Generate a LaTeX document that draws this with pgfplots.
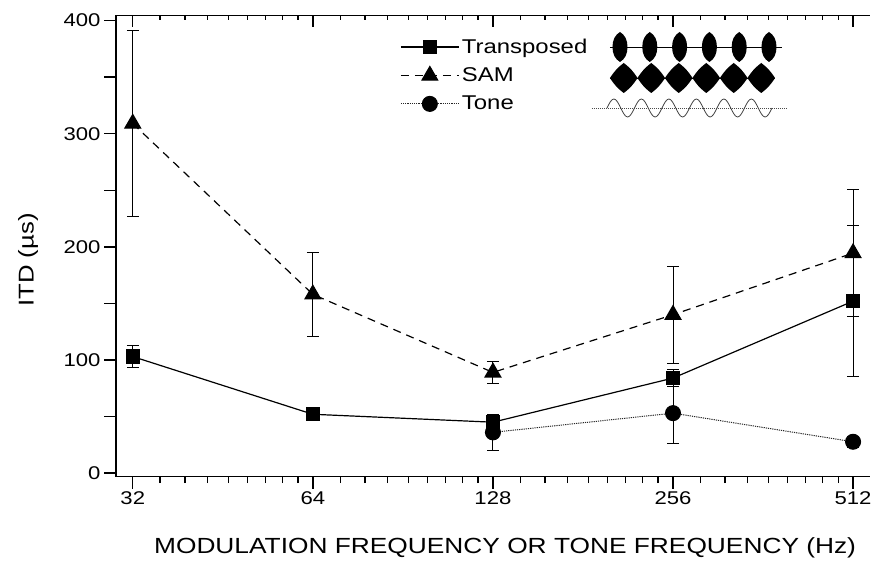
\documentclass[border=0pt]{standalone}
\usepackage{fontspec}
\setmainfont{Liberation Sans}[FakeStretch=1.2]
\usepackage{pgfplots}
\usepackage{pgfplotstable}
\pgfplotsset{compat=1.18}

% ITD thresholds (microseconds) with error bars
\pgfplotstableread{
f    itd    err
32   103    10
64   52     3
128  45     6
256  84     7.5
512  152    67
}\transposed
\pgfplotstableread{
f    itd    err
32   309    82
64   158    37
128  89     9.5
256  140    43
512  194.5  56
}\sam
\pgfplotstableread{
f    itd    err
128  36     16
256  53     26.5
512  27.7   5
}\tone

\begin{document}
\begin{tikzpicture}
% top axis: ticks pointing inward, no labels
\begin{axis}[
  at={(0,0)}, anchor=south west, scale only axis,
  width=754bp, height=461bp,
  xmode=log, log basis x=2, xmin=30, xmax=546.5,
  ymin=-3, ymax=404.5,
  xtick={32,64,128,256,512},
  extra x ticks={35.556,39.111,42.667,46.222,49.778,53.333,56.889,60.444,
    71.111,78.222,85.333,92.444,99.556,106.667,113.778,120.889,
    142.222,156.444,170.667,184.889,199.111,213.333,227.556,241.778,
    284.444,312.889,341.333,369.778,398.222,426.667,455.111,483.556},
  extra x tick labels={},
  extra x tick style={major tick length=5bp},
  major tick length=12bp,
  every tick/.append style={line width=1.4bp, black},
  axis line style={line width=1.6bp},
  axis x line*=top, axis y line=none,
  xticklabels={}, tick align=inside]
\end{axis}

\begin{axis}[name=ax,
  at={(0,0)}, anchor=south west, scale only axis,
  width=754bp, height=461bp,
  xmode=log, log basis x=2, xmin=30, xmax=546.5,
  ymin=-3, ymax=404.5,
  xtick={32,64,128,256,512},
  extra x ticks={35.556,39.111,42.667,46.222,49.778,53.333,56.889,60.444,
    71.111,78.222,85.333,92.444,99.556,106.667,113.778,120.889,
    142.222,156.444,170.667,184.889,199.111,213.333,227.556,241.778,
    284.444,312.889,341.333,369.778,398.222,426.667,455.111,483.556},
  extra x tick labels={},
  extra x tick style={major tick length=6.5bp},
  ytick={0,50,100,150,200,250,300,350,400},
  yticklabels={0,,100,,200,,300,,400},
  major tick length=12bp,
  every tick/.append style={line width=1.4bp, black},
  axis line style={line width=1.6bp},
  axis x line*=bottom, axis y line*=left,
  tick align=outside,
  xticklabels={32,64,128,256,512},
  /pgf/number format/assume math mode=true,
  ticklabel style={font=\fontsize{18.5}{20}\selectfont},
  xlabel={MODULATION FREQUENCY OR TONE FREQUENCY (Hz)},
  ylabel={ITD (\textmu s)},
  xlabel style={at={(axis description cs:0.516,-0.155)}, anchor=center,
    font=\fontsize{22}{24}\selectfont},
  ylabel style={at={(axis description cs:-0.1167,0.4696)}, anchor=center,
    font=\fontsize{21.5}{24}\selectfont},
  legend style={at={(axis description cs:0.3767,0.955)}, anchor=north west,
    draw=none, fill=none, inner sep=0pt, row sep=8bp,
    font=\fontsize{20}{21}\selectfont,
    nodes={inner sep=2.5bp}},
  legend cell align=left,
  legend image code/.code={%
    \draw[mark repeat=2, mark phase=2, #1]
      plot coordinates {(0bp,0bp) (29bp,0bp) (58bp,0bp)};},
  error bars/error bar style={line width=0.9bp, solid, black},
  error bars/error mark options={rotate=90, mark size=6bp, line width=0.9bp, solid, black},
]
\addplot[black, line width=1.2bp, mark=square*, mark size=6.5bp,
  mark options={solid},
  error bars/.cd, y dir=both, y explicit]
  table[x=f, y=itd, y error=err] {\transposed};
\addlegendentry{Transposed}

\addplot[black, line width=1.2bp, dash pattern=on 8bp off 6bp,
  mark=triangle*, mark size=9bp, mark options={solid},
  error bars/.cd, y dir=both, y explicit]
  table[x=f, y=itd, y error=err] {\sam};
\addlegendentry{SAM}

\addplot[black!85, line width=1bp, dash pattern=on 1.2bp off 1bp,
  mark=*, mark size=7.5bp, mark options={solid, fill=black, draw=black},
  error bars/.cd, y dir=both, y explicit]
  table[x=f, y=itd, y error=err] {\tone};
\addlegendentry{Tone}
\end{axis}

% stimulus sketches beside the legend
\begin{scope}[x=1bp, y=-1bp, xshift=-116bp, yshift=476.5bp]
  % transposed tone: rectified lobes on a carrier line
  \draw[line width=0.8bp] (610,47) -- (782,47);
  \foreach \c in {620,649.8,679.6,709.4,739.2,769}{
    \fill (\c,32) .. controls (\c+5,35) and (\c+7.5,40) .. (\c+7.5,47)
          .. controls (\c+7.5,54) and (\c+5,59) .. (\c,62)
          .. controls (\c-5,59) and (\c-7.5,54) .. (\c-7.5,47)
          .. controls (\c-7.5,40) and (\c-5,35) .. cycle;
  }
  % SAM: diamond-like envelope lobes
  \foreach \i in {0,...,5}{
    \pgfmathsetmacro\a{610+27.5*\i}
    \pgfmathsetmacro\m{\a+13.75}
    \pgfmathsetmacro\b{\a+27.5}
    \fill (\a,78) to[bend left=10] (\m,63) to[bend left=10] (\b,78)
          to[bend left=10] (\m,93) to[bend left=10] (\a,78) -- cycle;
  }
  \draw[line width=0.7bp] (610,78) -- (775,78);
  % pure tone
  \draw[black!70, line width=0.7bp, dash pattern=on 1bp off 1bp] (592,108) -- (787,108);
  \foreach \i in {0,...,5}{
    \pgfmathsetmacro\a{607+27.5*\i}
    \draw[black!75, line width=0.8bp] (\a,108)
      sin ({\a+6.875},99) cos ({\a+13.75},108)
      sin ({\a+20.625},117) cos ({\a+27.5},108);
  }
\end{scope}

\pgfresetboundingbox
\path[use as bounding box] (-116bp,-86.5bp) rectangle (756bp,476.5bp);
\end{tikzpicture}
\end{document}
